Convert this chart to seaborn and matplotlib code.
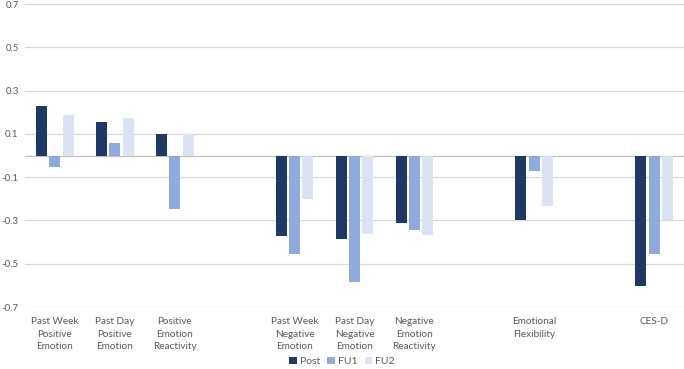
import pandas as pd
import matplotlib.pyplot as plt
import seaborn as sns
from matplotlib.patches import Patch

# === data ===
measures = ["Past Week\nPositive\nEmotion", "Past Day\nPositive\nEmotion",
            "Positive\nEmotion\nReactivity", "Past Week\nNegative\nEmotion",
            "Past Day\nNegative\nEmotion", "Negative\nEmotion\nReactivity",
            "Emotional\nFlexibility", "CES-D"]
post = [0.229, 0.156, 0.100, -0.371, -0.385, -0.311, -0.300, -0.602]
fu1 = [-0.053, 0.058, -0.249, -0.454, -0.583, -0.346, -0.071, -0.453]
fu2 = [0.187, 0.175, 0.100, -0.199, -0.363, -0.365, -0.231, -0.300]
series = ["Post", "FU1", "FU2"]
colors = ["#203864", "#8FAADC", "#DAE3F3"]
yticks = [-0.7, -0.5, -0.3, -0.1, 0.1, 0.3, 0.5, 0.7]

df = pd.DataFrame({
    "measure": measures * 3,
    "value": post + fu1 + fu2,
    "time": [s for s in series for _ in measures],
})

# empty slots between the groups of measures
order = measures[:3] + [" "] + measures[3:6] + ["  "] + [measures[6]] + ["   "] + [measures[7]]

sns.set_style("white")
plt.rcParams['font.family'] = ['Lato', 'DejaVu Sans']
plt.rcParams['axes.unicode_minus'] = False

fig = plt.figure(figsize=(6.84, 3.69), dpi=100)
ax = fig.add_axes([0.0365, 0.168, 0.9635, 0.821])

for y in yticks:
    ax.axhline(y, color="#d9d9d9", lw=0.9, zorder=0)
ax.axhline(0, color="#bfbfbf", lw=0.9, zorder=0)

sns.barplot(data=df, x="measure", y="value", hue="time", order=order,
            hue_order=series, palette=colors, saturation=1, width=0.667, gap=0.17,
            errorbar=None, linewidth=0, legend=False, ax=ax, zorder=2)

ax.set_ylim(-0.7, 0.7)
ax.set_xlim(-0.5, len(order) - 0.5)
ax.set_yticks(yticks)
ax.set_yticklabels([f"{v:.1f}" for v in yticks])
ax.set_xticks(range(len(order)))
ax.set_xticklabels([m if m.strip() else "" for m in order], linespacing=1.55)
ax.tick_params(axis="both", length=0, labelsize=7.2, labelcolor="#595959")
ax.tick_params(axis="x", pad=7)
ax.tick_params(axis="y", pad=4.5, labelsize=7)
ax.set_xlabel("")
ax.set_ylabel("")
for s in ax.spines.values():
    s.set_visible(False)
ax.grid(False)

handles = [Patch(facecolor=c, edgecolor="none") for c in colors]
fig.legend(handles, series, loc="lower center", bbox_to_anchor=(0.5, -0.018),
           ncol=3, frameon=False, fontsize=7.5, handlelength=0.7, handleheight=0.7,
           handletextpad=0.3, columnspacing=0.7, labelcolor="#595959")

fig.savefig("out.png", dpi=100)
